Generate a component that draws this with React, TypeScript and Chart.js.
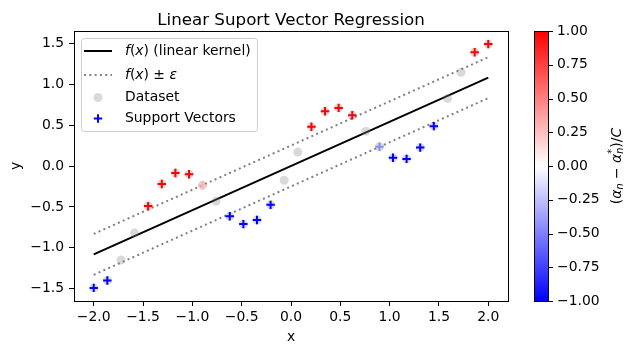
import React, { useEffect, useRef } from 'react';
import { Chart, registerables } from 'chart.js';
Chart.register(...registerables);

const xData = [-2.0, -1.862, -1.724, -1.586, -1.448, -1.31, -1.172, -1.034, -0.897, -0.759, -0.621, -0.483, -0.345, -0.207, -0.069, 0.069, 0.207, 0.345, 0.483, 0.621, 0.759, 0.897, 1.034, 1.172, 1.31, 1.448, 1.586, 1.724, 1.862, 2.0];
const yData = [-1.49, -1.40, -1.15, -0.82, -0.49, -0.22, -0.085, -0.10, -0.235, -0.43, -0.615, -0.71, -0.66, -0.475, -0.175, 0.17, 0.48, 0.67, 0.71, 0.62, 0.425, 0.235, 0.10, 0.087, 0.225, 0.487, 0.826, 1.145, 1.39, 1.49];

const svX = [-2.0, -1.862, -1.448, -1.31, -1.172, -1.034, -0.897, -0.621, -0.483, -0.345, -0.207, 0.207, 0.345, 0.483, 0.621, 0.897, 1.034, 1.172, 1.31, 1.448, 1.862, 2.0];
const svY = [-1.49, -1.40, -0.49, -0.22, -0.085, -0.10, -0.235, -0.615, -0.71, -0.66, -0.475, 0.48, 0.67, 0.71, 0.62, 0.235, 0.10, 0.087, 0.225, 0.487, 1.39, 1.49];
const svCoef = [-1, -1, 1, 1, 1, 1, 0.3, -1, -1, -1, -1, 1, 1, 1, 1, -0.45, -1, -1, -1, -1, 1, 1];

const fitX = [-2, 2];
const fitY = [-1.08, 1.08];
const upperY = [-0.83, 1.33];
const lowerY = [-1.33, 0.83];

const xTicks = [-2, -1.5, -1, -0.5, 0, 0.5, 1, 1.5, 2];
const yTicks = [-1.5, -1, -0.5, 0, 0.5, 1, 1.5];
const cbTicks = [-1, -0.75, -0.5, -0.25, 0, 0.25, 0.5, 0.75, 1];

const TITLE = 'Linear Suport Vector Regression';
const FAM = '"DejaVu Sans", sans-serif';
const FS = 13.9;
const LW = 2;
const DOT = [2, 3.3];

function bwr(v: number): string {
  const t = (v + 1) / 2;
  let r: number, g: number, b: number;
  if (t < 0.5) { r = g = Math.round(2 * t * 255); b = 255; }
  else { r = 255; g = b = Math.round(2 * (1 - t) * 255); }
  return `rgb(${r},${g},${b})`;
}

const fmt = (v: number, d: number) => v.toFixed(d).replace('-', '\u2212');

type Part = { t: string; it?: boolean; sc?: number; dy?: number; stackNext?: boolean };

function fontOf(p: Part, size: number) {
  return `${p.it ? 'italic ' : ''}${size * (p.sc || 1)}px ${FAM}`;
}

function richWidth(ctx: CanvasRenderingContext2D, parts: Part[], size: number) {
  let w = 0;
  let stackW = 0;
  for (const p of parts) {
    ctx.font = fontOf(p, size);
    const mw = ctx.measureText(p.t).width;
    if (p.stackNext) { stackW = mw; continue; }
    w += Math.max(mw, stackW);
    stackW = 0;
  }
  return w;
}

function drawRich(ctx: CanvasRenderingContext2D, parts: Part[], x: number, y: number, size: number) {
  let cx = x;
  let stackW = 0;
  for (const p of parts) {
    ctx.font = fontOf(p, size);
    const mw = ctx.measureText(p.t).width;
    ctx.fillText(p.t, cx, y + (p.dy || 0) * size);
    if (p.stackNext) { stackW = mw; continue; }
    cx += Math.max(mw, stackW);
    stackW = 0;
  }
}

const decor = {
  id: 'decor',
  afterDraw(chart: any) {
    const ctx: CanvasRenderingContext2D = chart.ctx;
    const a = chart.chartArea;
    ctx.save();
    // spines
    ctx.strokeStyle = '#000';
    ctx.lineWidth = 1;
    ctx.strokeRect(Math.round(a.left) + 0.5, Math.round(a.top) + 0.5, Math.round(a.right - a.left), Math.round(a.bottom - a.top));

    // title
    ctx.fillStyle = '#000';
    ctx.font = `16.7px ${FAM}`;
    ctx.textAlign = 'center';
    ctx.textBaseline = 'alphabetic';
    ctx.fillText(TITLE, (a.left + a.right) / 2, 25);

    // legend
    const lx = 81, ly = 38, lw = 176, lh = 93;
    ctx.beginPath();
    (ctx as any).roundRect(lx + 0.5, ly + 0.5, lw, lh, 3);
    ctx.fillStyle = 'rgba(255,255,255,0.8)';
    ctx.fill();
    ctx.strokeStyle = '#cccccc';
    ctx.lineWidth = 1;
    ctx.stroke();

    const rows = [51, 75, 97.5, 118.5];
    const hx0 = 84, hx1 = 112, tx = 125, mx = 98;
    ctx.strokeStyle = '#000';
    ctx.lineWidth = LW;
    ctx.setLineDash([]);
    ctx.beginPath(); ctx.moveTo(hx0, rows[0]); ctx.lineTo(hx1, rows[0]); ctx.stroke();
    ctx.strokeStyle = 'gray';
    ctx.setLineDash(DOT);
    ctx.beginPath(); ctx.moveTo(hx0, rows[1]); ctx.lineTo(hx1, rows[1]); ctx.stroke();
    ctx.setLineDash([]);
    ctx.fillStyle = 'rgba(128,128,128,0.3)';
    ctx.beginPath(); ctx.arc(mx, rows[2], 4.5, 0, Math.PI * 2); ctx.fill();
    ctx.strokeStyle = 'blue';
    ctx.lineWidth = 2;
    ctx.beginPath();
    ctx.moveTo(mx - 4.2, rows[3]); ctx.lineTo(mx + 4.2, rows[3]);
    ctx.moveTo(mx, rows[3] - 4.2); ctx.lineTo(mx, rows[3] + 4.2);
    ctx.stroke();

    ctx.fillStyle = '#000';
    ctx.textAlign = 'left';
    ctx.textBaseline = 'middle';
    drawRich(ctx, [{ t: 'f', it: true }, { t: '(' }, { t: 'x', it: true }, { t: ')' }, { t: ' (linear kernel)' }], tx, rows[0], FS);
    drawRich(ctx, [{ t: 'f', it: true }, { t: '(' }, { t: 'x', it: true }, { t: ')' }, { t: ' \u00b1 ' }, { t: '\u03b5', it: true }], tx, rows[1], FS);
    ctx.font = `${FS}px ${FAM}`;
    ctx.fillText('Dataset', tx, rows[2]);
    ctx.fillText('Support Vectors', tx, rows[3]);

    // colorbar
    const cbL = 534, cbR = 548, cbT = a.top, cbB = a.bottom;
    const grad = ctx.createLinearGradient(0, cbT, 0, cbB);
    grad.addColorStop(0, bwr(1));
    grad.addColorStop(0.5, bwr(0));
    grad.addColorStop(1, bwr(-1));
    ctx.fillStyle = grad;
    ctx.fillRect(cbL, cbT, cbR - cbL, cbB - cbT);
    ctx.strokeStyle = '#000';
    ctx.lineWidth = 1;
    ctx.strokeRect(cbL + 0.5, Math.round(cbT) + 0.5, cbR - cbL, Math.round(cbB - cbT));
    ctx.font = `${FS}px ${FAM}`;
    ctx.fillStyle = '#000';
    ctx.textAlign = 'left';
    ctx.textBaseline = 'middle';
    for (const v of cbTicks) {
      const py = cbB - ((v + 1) / 2) * (cbB - cbT);
      ctx.beginPath();
      ctx.moveTo(cbR, Math.round(py) + 0.5);
      ctx.lineTo(cbR + 5, Math.round(py) + 0.5);
      ctx.stroke();
      ctx.fillText(fmt(v, 2), cbR + 9, py);
    }
    const parts: Part[] = [
      { t: '(' }, { t: '\u03b1', it: true }, { t: 'n', it: true, sc: 0.7, dy: 0.25 },
      { t: ' \u2212 ' }, { t: '\u03b1', it: true },
      { t: '*', sc: 0.7, dy: -0.35, stackNext: true }, { t: 'n', it: true, sc: 0.7, dy: 0.25 },
      { t: ')/' }, { t: 'C', it: true },
    ];
    ctx.translate(617, (cbT + cbB) / 2);
    ctx.rotate(-Math.PI / 2);
    const w = richWidth(ctx, parts, FS);
    drawRich(ctx, parts, -w / 2, 0, FS);
    ctx.restore();
  },
};

export default function App() {
  const ref = useRef<HTMLCanvasElement>(null);
  useEffect(() => {
    if (!ref.current) return;
    const tickFont = { family: FAM, size: FS };
    const chart = new Chart(ref.current, {
      type: 'scatter',
      data: {
        datasets: [
          {
            label: 'f(x) (linear kernel)',
            data: fitX.map((x, i) => ({ x, y: fitY[i] })),
            showLine: true, borderColor: '#000', borderWidth: LW, pointRadius: 0, order: 5,
          },
          {
            label: 'f(x) + eps',
            data: fitX.map((x, i) => ({ x, y: upperY[i] })),
            showLine: true, borderColor: 'gray', borderWidth: LW, borderDash: DOT, pointRadius: 0, order: 4,
          },
          {
            label: 'f(x) - eps',
            data: fitX.map((x, i) => ({ x, y: lowerY[i] })),
            showLine: true, borderColor: 'gray', borderWidth: LW, borderDash: DOT, pointRadius: 0, order: 4,
          },
          {
            label: 'Dataset',
            data: xData.map((x, i) => ({ x, y: yData[i] })),
            pointRadius: 4.5, pointBackgroundColor: 'rgba(128,128,128,0.3)', pointBorderWidth: 0, order: 2,
          },
          {
            label: 'Support Vectors',
            data: svX.map((x, i) => ({ x, y: svY[i] })),
            pointStyle: 'cross', pointRadius: 4.2, pointBorderWidth: 2,
            pointBorderColor: svCoef.map(bwr), pointBackgroundColor: svCoef.map(bwr), order: 1,
          },
        ] as any,
      },
      options: {
        animation: false,
        responsive: false,
        devicePixelRatio: 1,
        events: [],
        layout: { padding: { top: 31, right: 129, left: 0, bottom: 0 } },
        plugins: { legend: { display: false }, title: { display: false }, tooltip: { enabled: false } },
        scales: {
          x: {
            type: 'linear', min: -2.2, max: 2.2,
            afterBuildTicks: (s: any) => { s.ticks = xTicks.map((v) => ({ value: v })); },
            afterFit: (s: any) => { s.height = 54; },
            grid: { drawOnChartArea: false, drawTicks: true, tickLength: 5, tickColor: '#000', tickWidth: 1 },
            border: { display: true, color: '#000', width: 1 },
            ticks: { color: '#000', font: tickFont, padding: 3, autoSkip: false, maxRotation: 0, callback: (v: any) => fmt(Number(v), 1) },
            title: { display: true, text: 'x', color: '#000', font: tickFont, padding: { top: 0, bottom: 9.5 } },
          },
          y: {
            type: 'linear', min: -1.65, max: 1.65,
            afterBuildTicks: (s: any) => { s.ticks = yTicks.map((v) => ({ value: v })); },
            afterFit: (s: any) => { s.width = 74; },
            grid: { drawOnChartArea: false, drawTicks: true, tickLength: 5, tickColor: '#000', tickWidth: 1 },
            border: { display: true, color: '#000', width: 1 },
            ticks: { color: '#000', font: tickFont, padding: 5, autoSkip: false, callback: (v: any) => fmt(Number(v), 1) },
            title: { display: true, text: 'y', color: '#000', font: tickFont, padding: { top: 8, bottom: 0 } },
          },
        },
      } as any,
      plugins: [decor],
    });
    return () => chart.destroy();
  }, []);
  return (
    <div style={{ position: 'fixed', left: 0, top: 0, width: 637, height: 355, background: '#fff' }}>
      <canvas ref={ref} width={637} height={355} style={{ width: 637, height: 355 }} />
    </div>
  );
}
